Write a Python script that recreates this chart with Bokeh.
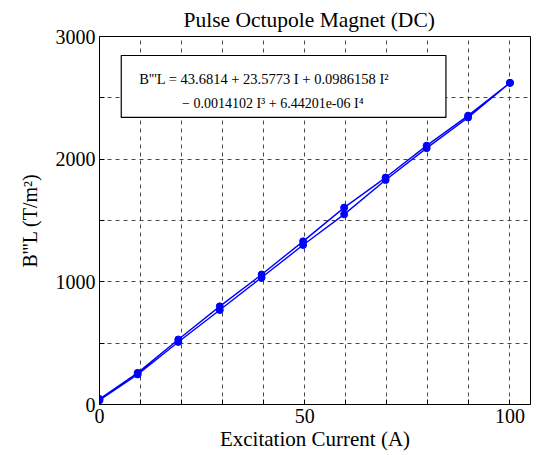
from bokeh.plotting import figure
from bokeh.models import FixedTicker, Label, BoxAnnotation, Range1d
from bokeh.embed import file_html
from bokeh.resources import INLINE

# Data (current in A, B'''L in T/m^2)
current_up = [0, 9.3, 19.2, 29.3, 39.5, 49.6, 59.6, 69.7, 79.7, 89.8, 100]
field_up = [35, 245, 510, 770, 1035, 1300, 1550, 1830, 2090, 2340, 2622]
current_down = [100, 89.8, 79.7, 69.7, 59.6, 49.6, 39.5, 29.3, 19.2, 9.3, 0]
field_down = [2622, 2355, 2110, 1850, 1605, 1330, 1060, 800, 530, 258, 45]

x_ticks = [0, 10, 20, 30, 40, 50, 60, 70, 80, 90, 100]
x_tick_labels = ["0", "", "", "", "", "50", "", "", "", "", "100"]
y_ticks = [0, 500, 1000, 1500, 2000, 2500, 3000]
y_tick_labels = ["0", "", "1000", "", "2000", "", "3000"]

title_text = "Pulse Octupole Magnet (DC)"
x_label = "Excitation Current (A)"
y_label = "B'''L (T/m²)"
eq_line1 = "B'''L = 43.6814 + 23.5773 I + 0.0986158 I²"
eq_line2 = "− 0.0014102 I³ + 6.44201e-06 I⁴"

FONT = "Liberation Serif"
BLUE = "#0000ff"

p = figure(width=536, height=455, output_backend="svg", toolbar_location=None,
           x_range=Range1d(0, 105), y_range=Range1d(0, 3000),
           min_border_left=99, min_border_right=6, min_border_top=36, min_border_bottom=51)

p.title.text = title_text
p.title.text_font = FONT
p.title.text_font_size = "21.5px"
p.title.text_font_style = "normal"
p.title.align = "left"
p.title.offset = 84
p.title.text_color = "black"

p.background_fill_color = "white"
p.border_fill_color = "white"
p.outline_line_color = "black"
p.outline_line_width = 1
p.outline_line_alpha = 1

for ax, ticks, labels in ((p.xaxis[0], x_ticks, x_tick_labels), (p.yaxis[0], y_ticks, y_tick_labels)):
    ax.ticker = FixedTicker(ticks=ticks)
    ax.major_label_overrides = {t: l for t, l in zip(ticks, labels)}
    ax.major_label_text_font = FONT
    ax.major_label_text_font_size = "20px"
    ax.major_label_text_color = "black"
    ax.major_tick_in = 5
    ax.major_tick_out = 0
    ax.minor_tick_line_color = None
    ax.axis_line_color = "black"
    ax.major_tick_line_color = "black"
    ax.major_label_standoff = 4

p.xaxis.axis_label = x_label
p.xaxis.axis_label_text_font = FONT
p.xaxis.axis_label_text_font_size = "21px"
p.xaxis.axis_label_text_font_style = "normal"
p.xaxis.axis_label_text_color = "black"
p.xaxis.axis_label_standoff = 1

p.yaxis.axis_label = y_label
p.yaxis.axis_label_text_font = FONT
p.yaxis.axis_label_text_font_size = "20px"
p.yaxis.axis_label_text_font_style = "normal"
p.yaxis.axis_label_text_color = "black"
p.yaxis.axis_label_standoff = 12

for g in (p.xgrid[0], p.ygrid[0]):
    g.grid_line_color = "#333333"
    g.grid_line_dash = "4 4"
    g.grid_line_width = 1
    g.grid_line_alpha = 0.9

# Hysteresis loop: up branch then down branch
p.line(current_up + current_down[1:], field_up + field_down[1:], line_color=BLUE, line_width=1.4)
p.scatter(current_up, field_up, size=7, color=BLUE)
p.scatter(current_down, field_down, size=7, color=BLUE)

# equation box
p.add_layout(BoxAnnotation(left=5.3, right=84.4, bottom=2340, top=2845,
                           fill_color="white", fill_alpha=1,
                           line_color="black", line_alpha=1, line_width=1.2, level="overlay"))
p.add_layout(Label(x=9.7, y=2657, text=eq_line1, text_baseline="alphabetic",
                   text_font=FONT, text_font_size="14.5px", text_color="black", level="overlay"))
p.add_layout(Label(x=20.1, y=2454, text=eq_line2, text_baseline="alphabetic",
                   text_font=FONT, text_font_size="14px", text_color="black", level="overlay"))

open("out.html", "w").write(file_html(p, INLINE))
